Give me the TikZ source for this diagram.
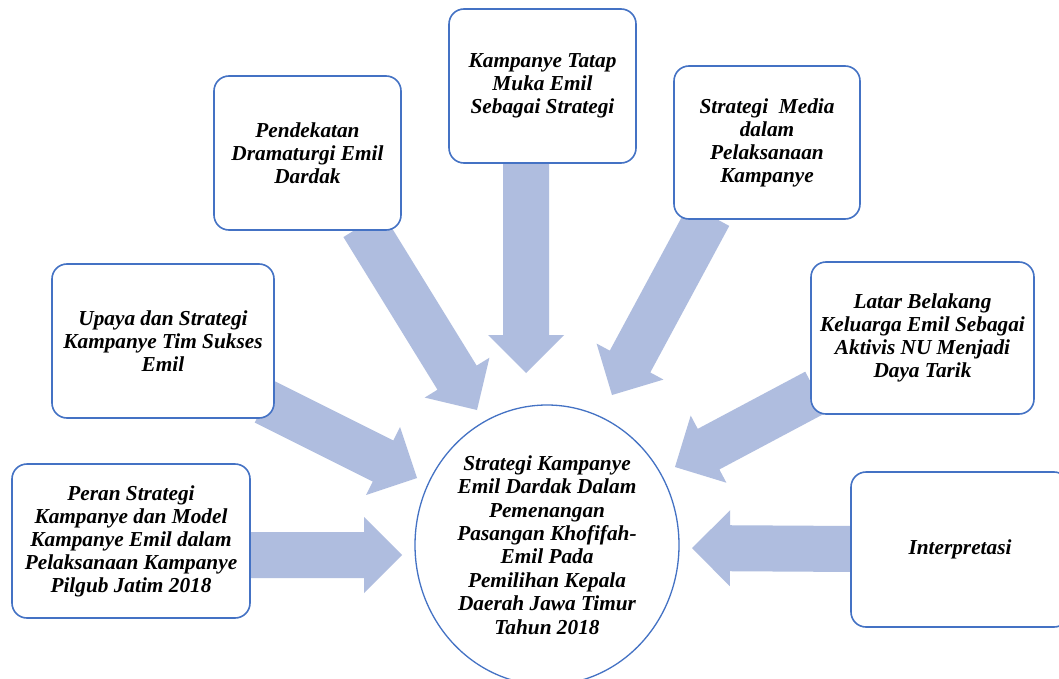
\documentclass[tikz,border=0pt]{standalone}
\usepackage{fontspec}
\setmainfont{Liberation Serif}
\usetikzlibrary{calc,shapes.geometric}
\definecolor{boxblue}{RGB}{68,114,196}
\definecolor{arrowblue}{RGB}{175,189,223}

\tikzset{
  topic/.style={draw=boxblue, line width=1.6pt, fill=white, rounded corners=15pt,
    align=center, inner sep=4pt, font=\fontsize{21.3}{23}\selectfont\bfseries\itshape},
  goal/.style={draw=boxblue, line width=1.3pt, fill=white, ellipse, inner sep=0pt,
    align=center, font=\fontsize{21.3}{23.4}\selectfont\bfseries\itshape}
}

% fat arrow from tail #1 to tip #2
\newcommand{\blockarrow}[2]{%
  \coordinate (hb) at ($(#2)!38pt!(#1)$);
  \fill[arrowblue] ($(#1)!23pt!90:(#2)$) -- ($(hb)!23pt!90:(#2)$) -- ($(hb)!38pt!90:(#2)$)
    -- (#2) -- ($(hb)!38pt!-90:(#2)$) -- ($(hb)!23pt!-90:(#2)$) -- ($(#1)!23pt!-90:(#2)$) -- cycle;
}

\begin{document}
\begin{tikzpicture}[x=1pt,y=-1pt]

\clip (0,0) rectangle (1059,679);
\fill[white] (0,0) rectangle (1059,679);

% tails and tips of the arrows
\coordinate (peranT) at (250,555);    \coordinate (peranH) at (402,555);
\coordinate (upayaT) at (265,402);    \coordinate (upayaH) at (417,478);
\coordinate (dramaT) at (363,225);    \coordinate (dramaH) at (477,410);
\coordinate (tatapT) at (526,160);    \coordinate (tatapH) at (526,373);
\coordinate (mediaT) at (709,215);    \coordinate (mediaH) at (612,395);
\coordinate (latarT) at (816,392);    \coordinate (latarH) at (675,467);
\coordinate (interpT) at (855,549);   \coordinate (interpH) at (692,548);

% Draw the arrows first, boxes go on top
\foreach \from/\to in {peranT/peranH, upayaT/upayaH, dramaT/dramaH, tatapT/tatapH,
                       mediaT/mediaH, latarT/latarH, interpT/interpH} {
    \blockarrow{\from}{\to}
}

% Boxes round the centre
\node[topic, minimum width=238pt, minimum height=154pt] (peran) at (131,541)
  {Peran Strategi\\Kampanye dan Model\\Kampanye Emil dalam\\Pelaksanaan Kampanye\\Pilgub Jatim 2018};
\node[topic, minimum width=222pt, minimum height=154pt] (upaya) at (163,341)
  {Upaya dan Strategi\\Kampanye Tim Sukses\\Emil};
\node[topic, minimum width=187pt, minimum height=154pt] (drama) at (307.5,153)
  {Pendekatan\\Dramaturgi Emil\\Dardak};
\node[topic, minimum width=187pt, minimum height=154pt] (tatap) at (542.5,86)
  {Kampanye Tatap\\Muka Emil\\Sebagai Strategi};
\node[topic, minimum width=186pt, minimum height=153pt] (media) at (767,142.5)
  {Strategi\ \ Media\\dalam\\Pelaksanaan\\Kampanye};
\node[topic, minimum width=223pt, minimum height=152pt] (latar) at (922.5,338)
  {Latar Belakang\\Keluarga Emil Sebagai\\Aktivis NU Menjadi\\Daya Tarik};
\node[topic, minimum width=218pt, minimum height=155pt] (interp) at (960,549.5)
  {Interpretasi};

% Centre
\node[goal, minimum width=264pt, minimum height=280pt] (centre) at (547,545)
  {Strategi Kampanye\\Emil Dardak Dalam\\Pemenangan\\Pasangan Khofifah-\\Emil Pada\\Pemilihan Kepala\\Daerah Jawa Timur\\Tahun 2018};

\end{tikzpicture}
\end{document}
